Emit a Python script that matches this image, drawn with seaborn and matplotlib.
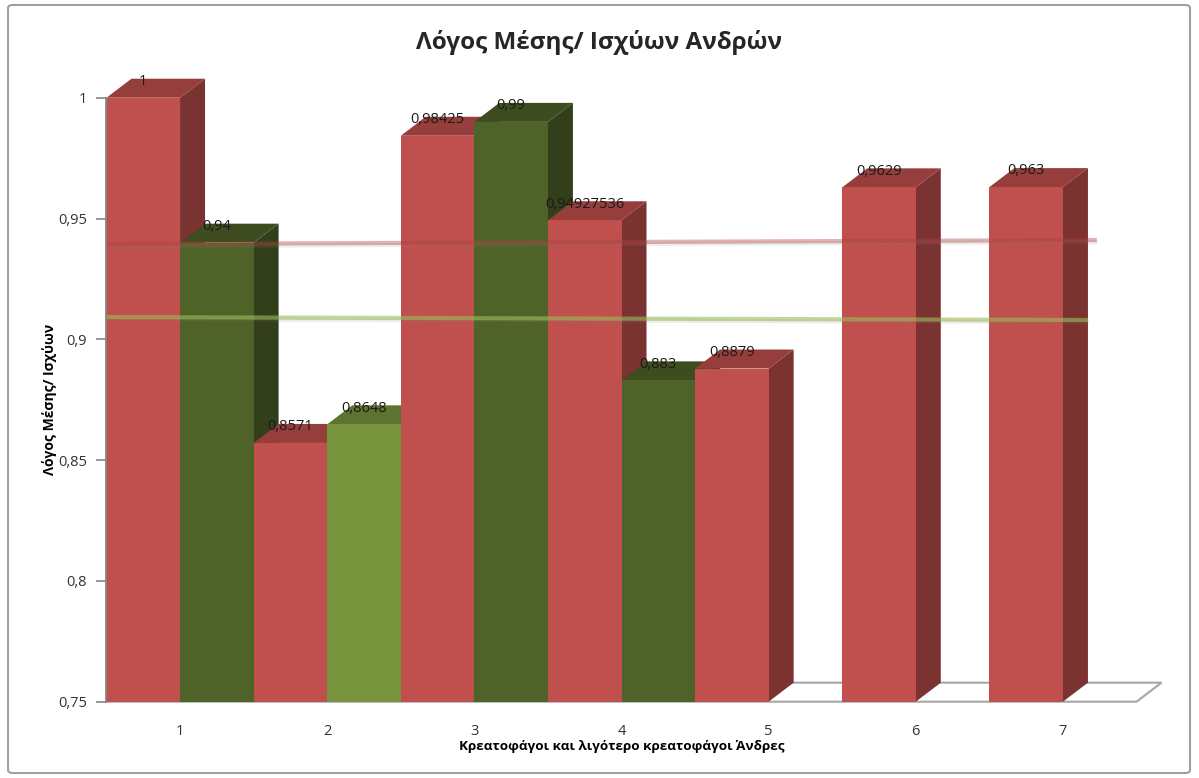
import matplotlib
matplotlib.use('Agg')
import matplotlib.pyplot as plt
import matplotlib.patheffects as pe
from matplotlib.patches import Polygon, FancyBboxPatch
import numpy as np
import pandas as pd
import seaborn as sns

# values
categories = ['1', '2', '3', '4', '5', '6', '7']
red_values = [1, 0.8571, 0.98425, 0.94927536, 0.8879, 0.9629, 0.963]
green_values = [0.94, 0.8648, 0.99, 0.883]
y_ticks = [0.75, 0.8, 0.85, 0.9, 0.95, 1.0]
# trend lines (start / end level as drawn in the chart)
red_trend = [0.9394, 0.9411]
green_trend = [0.9092, 0.9080]

title = 'Λόγος Μέσης/ Ισχύων Ανδρών'
ylabel = 'Λόγος Μέσης/ Ισχύων'
xlabel = 'Κρεατοφάγοι και λιγότερο κρεατοφάγοι Άνδρες'


def comma(v):
    return np.format_float_positional(v, trim='-').replace('.', ',')


def shade(color, k):
    r, g, b = matplotlib.colors.to_rgb(color)
    return (r * k, g * k, b * k)


sns.set_style('white')
plt.rcParams['font.family'] = ['Open Sans', 'DejaVu Sans']

rows = [(c, 'red', v) for c, v in zip(categories, red_values)]
rows += [(c, 'green', v) for c, v in zip(categories, green_values)]
df = pd.DataFrame(rows, columns=['cat', 'series', 'value'])

fig = plt.figure(figsize=(11.99, 7.78), dpi=100)
ax = fig.add_axes([0.0888, 0.0981, 0.8591, 0.7763])

sns.barplot(data=df, x='cat', y='value', hue='series', order=categories,
            hue_order=['red', 'green'],
            palette={'red': '#C0504D', 'green': '#4F6228'},
            width=1.0, dodge=True, saturation=1, errorbar=None,
            legend=False, ax=ax)

ax.set_xlim(-0.5, 6.5)
ax.set_ylim(0.75, 1.0)

# depth of the fake 3d boxes, given in pixels
inv = ax.transData.inverted()
p0 = ax.transData.transform((0, 0.75))
dx, dy = inv.transform(p0 + np.array([25, 19])) - np.array([0, 0.75])

# floor
floor = Polygon([(-0.5, 0.75), (6.5, 0.75), (6.5 + dx, 0.75 + dy), (-0.5 + dx, 0.75 + dy)],
                closed=True, facecolor='white', edgecolor='#A6A6A6', lw=1.5,
                zorder=1, clip_on=False)
ax.add_patch(floor)

bars = sorted([p for p in ax.patches if p is not floor], key=lambda p: p.get_x())
for i, p in enumerate(bars):
    x0, w, h = p.get_x(), p.get_width(), p.get_height()
    if abs(x0 + w / 2 - (categories.index('2') + 0.25)) < 1e-6:
        p.set_facecolor('#77933C')
    col = p.get_facecolor()
    z = 3 + i * 0.1
    p.set_zorder(z + 0.05)
    p.set_edgecolor('none')
    side = Polygon([(x0 + w, 0.75), (x0 + w, h), (x0 + w + dx, h + dy), (x0 + w + dx, 0.75 + dy)],
                   closed=True, facecolor=shade(col, 0.64), edgecolor='none', zorder=z, clip_on=False)
    top = Polygon([(x0, h), (x0 + w, h), (x0 + w + dx, h + dy), (x0 + dx, h + dy)],
                  closed=True, facecolor=shade(col, 0.78), edgecolor='none', zorder=z, clip_on=False)
    ax.add_patch(side)
    ax.add_patch(top)
    ax.text(x0 + w / 2, h + dy * 0.85, comma(h), ha='center', va='center',
            fontsize=10.5, color='#1a1a1a', zorder=20, clip_on=False)

# trend lines
shadow = [pe.SimpleLineShadow(offset=(0.5, -1.5), shadow_color='#808080', alpha=0.15), pe.Normal()]
ax.plot([-0.5, 6.23], red_trend, color='#B0403D', alpha=0.4, lw=3, zorder=15,
        path_effects=shadow, solid_capstyle='butt')
ax.plot([-0.5, 6.17], green_trend, color='#9BBB59', alpha=0.6, lw=3, zorder=15,
        path_effects=shadow, solid_capstyle='butt')

ax.set_yticks(y_ticks)
ax.set_yticklabels([comma(v) for v in y_ticks])
ax.tick_params(axis='y', left=True, length=7, width=1.2, color='#868686', pad=7,
               labelsize=10.5, labelcolor='#333333')
ax.tick_params(axis='x', bottom=False, length=0, pad=16, labelsize=10.5, labelcolor='#333333')

for s in ['top', 'right', 'bottom']:
    ax.spines[s].set_visible(False)
ax.spines['left'].set_color('#868686')
ax.spines['left'].set_linewidth(1.3)
ax.spines['left'].set_zorder(30)

ax.set_xlabel(xlabel, fontsize=9.7, fontweight='bold', color='black')
ax.xaxis.set_label_coords(0.5, -0.064)
ax.xaxis.label.set_va('top')
ax.set_ylabel(ylabel, fontsize=10, fontweight='bold', color='black')
ax.yaxis.set_label_coords(-0.0555, 0.5)
ax.yaxis.label.set_va('center')

fig.text(0.5, 0.946, title, ha='center', va='center', fontsize=17.5, fontweight='bold')

border = FancyBboxPatch((0.0067, 0.0064), 0.9858, 0.9872, boxstyle='round,pad=0,rounding_size=0.004',
                        transform=fig.transFigure, facecolor='none', edgecolor='#A0A0A0', lw=1.5)
fig.patches.append(border)

fig.savefig('out.png', dpi=100)
